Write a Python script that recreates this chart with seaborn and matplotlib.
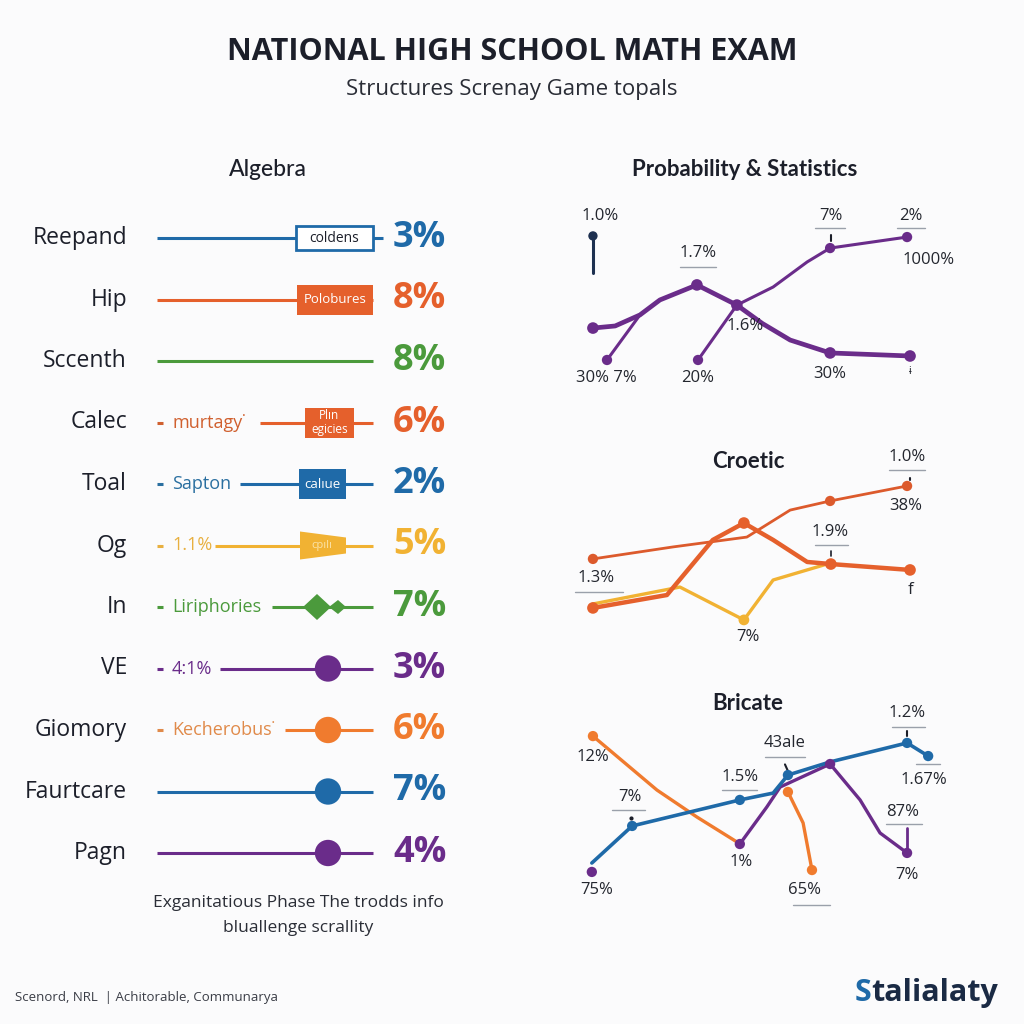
import matplotlib
matplotlib.use("Agg")
import matplotlib.pyplot as plt
from matplotlib.patches import Rectangle, Polygon
import seaborn as sns

# ---------------- data ----------------
algebra_topics = ["Reepand", "Hip", "Sccenth", "Calec", "Toal", "Og", "In",
                  "VE", "Giomory", "Faurtcare", "Pagn"]
algebra_pct = [3, 8, 8, 6, 2, 5, 7, 3, 6, 7, 4]
algebra_notes = ["", "", "", "murtagy\u02d9", "Sapton", "1.1%", "Liriphories",
                 "4:1%", "Kecherobus\u02d9", "", ""]
algebra_tags = ["coldens", "Polobures", "", "Pl\u0131n\negicies", "cal\u0131ue",
                "cp\u0131l\u0131", "", "", "", "", ""]

# Probability & Statistics (x = step position, y = score)
prob_a_x = [6.2, 12.2, 18.9, 24.3, 34.3, 45.1, 52.0, 59.5, 70.3, 91.9]
prob_a_y = [32.6, 33.7, 39.5, 47.4, 55.3, 44.7, 35.0, 26.3, 19.5, 17.9]
prob_b_x = [10.0, 18.9]
prob_b_y = [15.8, 39.5]
prob_c_x = [34.6, 45.1, 54.9, 64.1, 70.3, 91.1]
prob_c_y = [15.8, 44.7, 54.2, 67.4, 74.7, 80.5]
prob_stick_x = [6.2, 6.2]
prob_stick_y = [61.6, 81.1]

# Croetic
cro_thin_x = [6.2, 27.8, 47.8, 59.5, 70.3, 91.1]
cro_thin_y = [53.2, 59.5, 64.7, 78.9, 83.7, 91.6]
cro_thick_x = [6.2, 26.2, 38.6, 47.0, 54.9, 64.1, 70.5, 91.9]
cro_thick_y = [27.4, 34.2, 63.2, 72.1, 63.2, 51.6, 50.5, 47.4]
cro_yel_x = [6.2, 29.7, 47.0, 54.9, 70.5]
cro_yel_y = [29.5, 38.4, 21.1, 42.1, 51.1]

# Bricate
bri_blue_x = [5.9, 16.8, 45.9, 54.9, 58.9, 70.3, 91.1, 96.8]
bri_blue_y = [22.1, 41.6, 55.3, 58.9, 68.4, 75.3, 85.3, 78.4]
bri_or_a_x = [6.2, 23.5, 34.3, 45.1]
bri_or_a_y = [88.9, 60.5, 46.3, 33.2]
bri_or_b_x = [58.9, 63.0, 65.4]
bri_or_b_y = [59.5, 43.2, 18.4]
bri_pur_x = [45.9, 53.2, 56.8, 70.3, 78.4, 83.8, 91.1]
bri_pur_y = [32.1, 51.6, 62.1, 74.2, 55.3, 37.9, 27.4]
bri_pur_start_x = [5.9]
bri_pur_start_y = [17.4]
bri_stick_x = [91.1, 91.1]
bri_stick_y = [27.4, 40.5]

# ---------------- style ----------------
W, H = 1024, 1024
BG = "#fbfbfc"
INK = "#1c1f2a"
BLUE = "#1f6aa8"
ORANGE = "#e5602c"
GREEN = "#4b9a3c"
YELLOW = "#f1b233"
PURPLE = "#6a2c8a"
ORANGE2 = "#f07b2e"
NAVY = "#1d3050"

row_colors = [BLUE, ORANGE, GREEN, ORANGE, BLUE, YELLOW, GREEN, PURPLE, ORANGE2, BLUE, PURPLE]
note_colors = ["", "", "", "#d0602f", "#2a6fa0", "#e8b040", GREEN, PURPLE, "#e08a4a", "", ""]
row_marks = ["outline", "box", None, "box", "box", "wedge", "bowtie", "dot", "dot", "dot", "dot"]
line_start = [157, 157, 157, 260, 240, 215, 272, 220, 285, 157, 157]

sns.set_theme(style="white")
plt.rcParams["font.family"] = ["Open Sans", "DejaVu Sans"]

fig = plt.figure(figsize=(W / 100, H / 100), dpi=100, facecolor=BG)


def px_axes(x0, y0, x1, y1):
    ax = fig.add_axes([x0 / W, 1 - y1 / H, (x1 - x0) / W, (y1 - y0) / H])
    ax.set_facecolor("none")
    ax.set_axis_off()
    return ax


# ---------------- titles ----------------
fig.text(512 / W, 1 - 52 / H, "NATIONAL HIGH SCHOOL MATH EXAM", ha="center", va="center",
         fontsize=22, fontweight="bold", color=INK)
fig.text(512 / W, 1 - 90 / H, "Structures Screnay Game topals", ha="center", va="center",
         fontsize=16, color="#2a2d36")
fig.text(268 / W, 1 - 170 / H, "Algebra", ha="center", va="center", fontsize=16.5,
         color=INK, family=["Lato", "DejaVu Sans"], fontweight="medium")
fig.text(745 / W, 1 - 170 / H, "Probability & Statistics", ha="center", va="center",
         fontsize=16, fontweight="bold", color=INK, family=["Lato", "DejaVu Sans"])
fig.text(748 / W, 1 - 461 / H, "Croetic", ha="center", va="center",
         fontsize=16, fontweight="bold", color=INK, family=["Lato", "DejaVu Sans"])
fig.text(748 / W, 1 - 703 / H, "Bricate", ha="center", va="center",
         fontsize=16, fontweight="bold", color=INK, family=["Lato", "DejaVu Sans"])

# ---------------- Algebra rows ----------------
ax = px_axes(0, 207.25, 460, 883.75)
ax.set_xlim(0, 460)
ax.set_ylim(10.5, -0.5)
u = 1 / 61.5  # one pixel in row units

for i, topic in enumerate(algebra_topics):
    c = row_colors[i]
    ax.text(127, i, topic, ha="right", va="center", fontsize=16.5, color=INK)
    end = 383 if row_marks[i] == "outline" else 373
    ax.hlines(i, line_start[i], end, color=c, lw=2.2, zorder=1)
    if algebra_notes[i]:
        ax.hlines(i, 157, 163, color=note_colors[i], lw=2.2)
        ax.text(172, i, algebra_notes[i], ha="left", va="center", fontsize=13,
                color=note_colors[i])
    m = row_marks[i]
    if m == "outline":
        ax.add_patch(Rectangle((296, i - 12 * u), 77, 24 * u, facecolor="white",
                               edgecolor=c, lw=2, zorder=2))
        ax.text(334, i, algebra_tags[i], ha="center", va="center", fontsize=10,
                color=INK, zorder=3)
    elif m == "box":
        x0, x1 = {1: (297, 373), 3: (305, 354), 4: (299, 346)}[i]
        ax.add_patch(Rectangle((x0, i - 15 * u), x1 - x0, 30 * u, facecolor=c,
                               edgecolor="none", zorder=2))
        ax.text((x0 + x1) / 2, i, algebra_tags[i], ha="center", va="center",
                fontsize=8.5 if "\n" in algebra_tags[i] else 9.5, color="white",
                zorder=3, linespacing=1.1)
    elif m == "wedge":
        ax.add_patch(Polygon([(300, i - 14 * u), (346, i - 8 * u), (346, i + 8 * u),
                              (300, i + 14 * u)], facecolor=c, edgecolor="none", zorder=2))
        ax.text(322, i, algebra_tags[i], ha="center", va="center", fontsize=8,
                color="#fbe3a8", zorder=3)
    elif m == "bowtie":
        ax.add_patch(Polygon([(303, i), (317, i - 13 * u), (331, i), (317, i + 13 * u)],
                             facecolor=c, edgecolor="none", zorder=2))
        ax.add_patch(Polygon([(329, i), (338, i - 7 * u), (346, i), (338, i + 7 * u)],
                             facecolor=c, edgecolor="none", zorder=2))
    elif m == "dot":
        sns.scatterplot(x=[328], y=[i], s=360, color=c, edgecolor="none", ax=ax, zorder=3)
    ax.text(393, i, f"{algebra_pct[i]}%", ha="left", va="center", fontsize=26,
            fontweight="bold", color=c)
ax.set_xlim(0, 460)
ax.set_ylim(10.5, -0.5)


# ---------------- right panels ----------------
def draw_series(ax, xs, ys, color, lw, marks, ms=55):
    sns.lineplot(x=xs, y=ys, ax=ax, color=color, lw=lw, sort=False, estimator=None)
    if marks:
        sns.scatterplot(x=[xs[k] for k in marks], y=[ys[k] for k in marks], ax=ax,
                        color=color, s=ms, edgecolor="none", zorder=4)


def label(ax, text, x, y, under=None, size=12):
    ax.text(x, y, text, ha="center", va="center", fontsize=size, color="#23262e")
    if under:
        ax.plot(under[:2], [under[2], under[2]], color="#9aa0aa", lw=1, clip_on=False)


def panel(y0, y1):
    a = px_axes(570, y0, 940, y1)
    a.set_xlim(0, 100)
    a.set_ylim(0, 100)
    return a


# Probability & Statistics
ap = panel(200, 390)
draw_series(ap, prob_stick_x, prob_stick_y, NAVY, 2.2, [1], ms=45)
draw_series(ap, prob_a_x, prob_a_y, PURPLE, 3.4, [0, 4, 5, 8, 9], ms=70)
draw_series(ap, prob_b_x, prob_b_y, PURPLE, 2.2, [0])
draw_series(ap, prob_c_x, prob_c_y, PURPLE, 2.2, [0, 4, 5])
label(ap, "1.0%", 8.1, 91.6)
label(ap, "1.7%", 34.6, 72.1, (29.7, 39.5, 64.7))
label(ap, "1.6%", 47.3, 33.7)
label(ap, "7%", 70.5, 91.6, (66.2, 74.3, 85.3))
ap.plot([70.5, 70.5], [78.5, 81.5], color=INK, lw=1.5)
label(ap, "2%", 92.2, 91.6, (88.4, 95.9, 85.3))
label(ap, "1000%", 97.0, 68.4)
label(ap, "30% 7%", 9.7, 6.3)
label(ap, "20%", 34.6, 6.3)
label(ap, "30%", 70.3, 8.4)
label(ap, "\u0268", 92.0, 10.0, size=7)
ap.set_xlim(0, 100)
ap.set_ylim(0, 100)

# Croetic
ac = panel(470, 660)
draw_series(ac, cro_thin_x, cro_thin_y, "#dc5a2c", 2.0, [0, 4, 5])
draw_series(ac, cro_yel_x, cro_yel_y, YELLOW, 2.4, [2], ms=60)
draw_series(ac, cro_thick_x, cro_thick_y, ORANGE, 3.2, [0, 3, 6, 7], ms=70)
label(ac, "1.3%", 7.0, 43.2, (1.4, 14.3, 35.8))
label(ac, "7%", 48.1, 12.1)
label(ac, "1.9%", 70.3, 67.4, (66.2, 75.1, 60.5))
ac.plot([70.5, 70.5], [55.0, 57.5], color=INK, lw=1.2)
label(ac, "1.0%", 91.1, 106.8, (86.2, 95.9, 100.0))
ac.plot([91.9, 91.9], [94.5, 96.0], color=INK, lw=1.5)
label(ac, "38%", 90.8, 81.1)
label(ac, "f", 91.9, 36.8)
ac.set_xlim(0, 100)
ac.set_ylim(0, 100)

# Bricate
ab = panel(715, 905)
draw_series(ab, bri_or_a_x, bri_or_a_y, ORANGE2, 2.4, [0])
draw_series(ab, bri_or_b_x, bri_or_b_y, ORANGE2, 2.4, [0, 2])
draw_series(ab, bri_pur_x, bri_pur_y, PURPLE, 2.4, [0, 3, 6])
draw_series(ab, bri_pur_start_x, bri_pur_start_y, PURPLE, 2.4, [0])
draw_series(ab, bri_stick_x, bri_stick_y, PURPLE, 2.0, [])
draw_series(ab, bri_blue_x, bri_blue_y, BLUE, 2.6, [1, 2, 4, 6, 7])
label(ab, "12%", 6.2, 77.9)
label(ab, "7%", 16.2, 56.8, (11.4, 20.3, 50.0))
ab.plot([16.5], [46.0], marker="o", ms=2, color=INK)
label(ab, "1.5%", 45.9, 67.4, (41.1, 50.5, 60.5))
label(ab, "43ale", 58.1, 85.3, (52.7, 63.5, 77.9))
ab.plot([58.1, 58.9], [74.0, 70.5], color=INK, lw=1.5)
label(ab, "1.2%", 91.1, 101.0, (87.0, 95.9, 93.7))
ab.plot([91.1, 91.1], [89.0, 91.5], color=INK, lw=1.5)
label(ab, "1.67%", 95.7, 65.8)
ab.plot([93.5, 100.0], [74.2, 74.2], color="#9aa0aa", lw=1, clip_on=False)
label(ab, "87%", 90.0, 48.9, (85.4, 95.1, 42.6))
label(ab, "7%", 91.1, 15.8)
label(ab, "1%", 46.2, 22.6)
label(ab, "65%", 63.5, 7.9, (60.3, 70.3, 0.0))
label(ab, "75%", 7.3, 7.9)
ab.set_xlim(0, 100)
ab.set_ylim(0, 100)

# ---------------- footer ----------------
fig.text(298 / W, 1 - 903 / H, "Exganitatious Phase The trodds info", ha="center",
         va="center", fontsize=12.5, color="#2a2d36")
fig.text(298 / W, 1 - 928 / H, "bluallenge scrallity", ha="center", va="center",
         fontsize=12.5, color="#2a2d36")
fig.text(15 / W, 1 - 997 / H, "Scenord, NRL  | Achitorable, Communarya", ha="left",
         va="center", fontsize=9.5, color="#3a3d46")

# logo: blue "S" followed by the rest of the word
s_txt = fig.text(855 / W, 1 - 993 / H, "S", ha="left", va="center", fontsize=22,
                 fontweight="bold", color=BLUE)
renderer = fig.canvas.get_renderer()
s_box = s_txt.get_window_extent(renderer=renderer)
fig.text(s_box.x1 / W, 1 - 993 / H, "talialaty", ha="left", va="center", fontsize=22,
         fontweight="bold", color="#1a2a44")

fig.savefig("out.png", dpi=100, facecolor=BG)
